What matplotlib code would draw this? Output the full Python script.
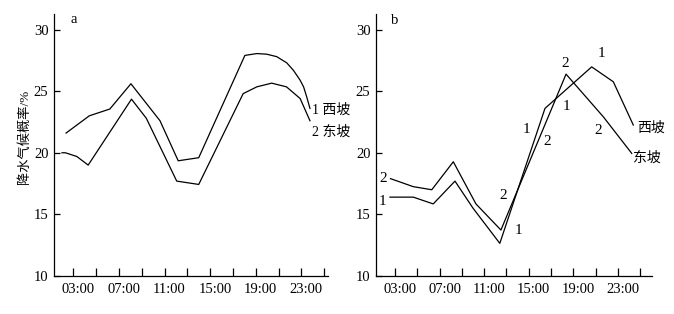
import matplotlib
matplotlib.use("Agg")
import matplotlib.pyplot as plt
from matplotlib.transforms import ScaledTranslation

plt.rcParams['font.family'] = ['Liberation Serif', 'Noto Sans CJK SC']

# panel a (hours, probability %)
hours_a_west = [2.36, 4.4, 6.2, 8.05, 10.6, 12.2, 14.0, 18.05, 19.1, 19.96, 20.84, 21.72, 22.3, 22.89, 23.2, 23.47, 23.76]
west_a = [21.6, 23.0, 23.55, 25.6, 22.6, 19.35, 19.6, 27.9, 28.05, 28.0, 27.8, 27.3, 26.7, 25.9, 25.35, 24.55, 23.6]
hours_a_east = [2.0, 2.3, 3.3, 4.3, 8.1, 9.4, 12.07, 14.0, 17.9, 19.1, 20.4, 21.7, 22.9, 23.76]
east_a = [20.0, 20.0, 19.7, 19.0, 24.35, 22.8, 17.7, 17.43, 24.8, 25.35, 25.65, 25.35, 24.4, 22.6]

# panel b
hours_b_west = [2.55, 4.64, 6.43, 8.38, 10.0, 12.4, 16.45, 20.64, 22.58, 24.37]
west_b = [16.4, 16.4, 15.85, 17.7, 15.5, 12.65, 23.6, 26.97, 25.76, 22.25]
hours_b_east = [2.6, 4.64, 6.3, 8.23, 10.26, 12.5, 18.34, 21.7, 24.23]
east_b = [17.9, 17.25, 17.0, 19.27, 15.85, 13.73, 26.38, 22.9, 19.95]

label_hours = [3, 7, 11, 15, 19, 23]
other_hours = [5, 9, 13, 17, 21, 25]
tick_labels = ['03:00', '07:00', '11:00', '15:00', '19:00', '23:00']

fig = plt.figure(figsize=(6.74, 3.14), dpi=100)
ax_a = fig.add_axes([0.0801, 0.121, 0.4065, 0.834])
ax_b = fig.add_axes([0.5579, 0.121, 0.409, 0.834])


def style(ax, xmax):
    ax.set_xlim(1.3, xmax)
    ax.set_ylim(10, 31.25)
    ax.spines['top'].set_visible(False)
    ax.spines['right'].set_visible(False)
    for s in ('left', 'bottom'):
        ax.spines[s].set_linewidth(0.9)
    ax.set_xticks(label_hours)
    ax.set_xticklabels(tick_labels, fontsize=10.5)
    ax.set_xticks(other_hours, minor=True)
    ax.tick_params(axis='x', which='both', direction='in', length=5.5, width=0.9, pad=5)
    ax.set_yticks([10, 15, 20, 25, 30])
    ax.tick_params(axis='y', direction='in', length=4, width=0.9, pad=4, labelsize=10.5)
    off = ScaledTranslation(5 / 100, 0, fig.dpi_scale_trans)
    for lab in ax.get_xticklabels():
        lab.set_transform(lab.get_transform() + off)


style(ax_a, 25.34)
style(ax_b, 26.02)

lw = 0.9
ax_a.plot(hours_a_west, west_a, color='black', lw=lw)
ax_a.plot(hours_a_east, east_a, color='black', lw=lw)
ax_a.text(23.94, 23.46, '1 西坡', fontsize=10, va='center', ha='left', clip_on=False)
ax_a.text(23.94, 21.7, '2 东坡', fontsize=10, va='center', ha='left', clip_on=False)
ax_a.text(0.062, 0.98, 'a', transform=ax_a.transAxes, fontsize=10.5, va='center')
ax_a.set_ylabel('降水气候概率/%', fontsize=9.5)
ax_a.yaxis.set_label_coords(-0.085, 0.53)

ax_b.plot(hours_b_west, west_b, color='black', lw=lw)
ax_b.plot(hours_b_east, east_b, color='black', lw=lw)
ax_b.text(0.053, 0.974, 'b', transform=ax_b.transAxes, fontsize=10.5, va='center')

marks = [('2', 1.9, 17.92), ('1', 1.9, 16.03), ('1', 14.81, 21.9), ('2', 16.66, 20.89),
         ('2', 12.71, 16.57), ('1', 14.06, 13.73), ('1', 18.4, 23.79), ('2', 21.23, 21.84),
         ('2', 18.25, 27.25), ('1', 21.48, 28.06)]
for s, x, y in marks:
    ax_b.text(x, y, s, fontsize=11, ha='center', va='center')
ax_b.text(24.68, 21.98, '西坡', fontsize=10, ha='left', va='center')
ax_b.text(24.35, 19.55, '东坡', fontsize=10, ha='left', va='center')

fig.savefig('out.png', dpi=100)
